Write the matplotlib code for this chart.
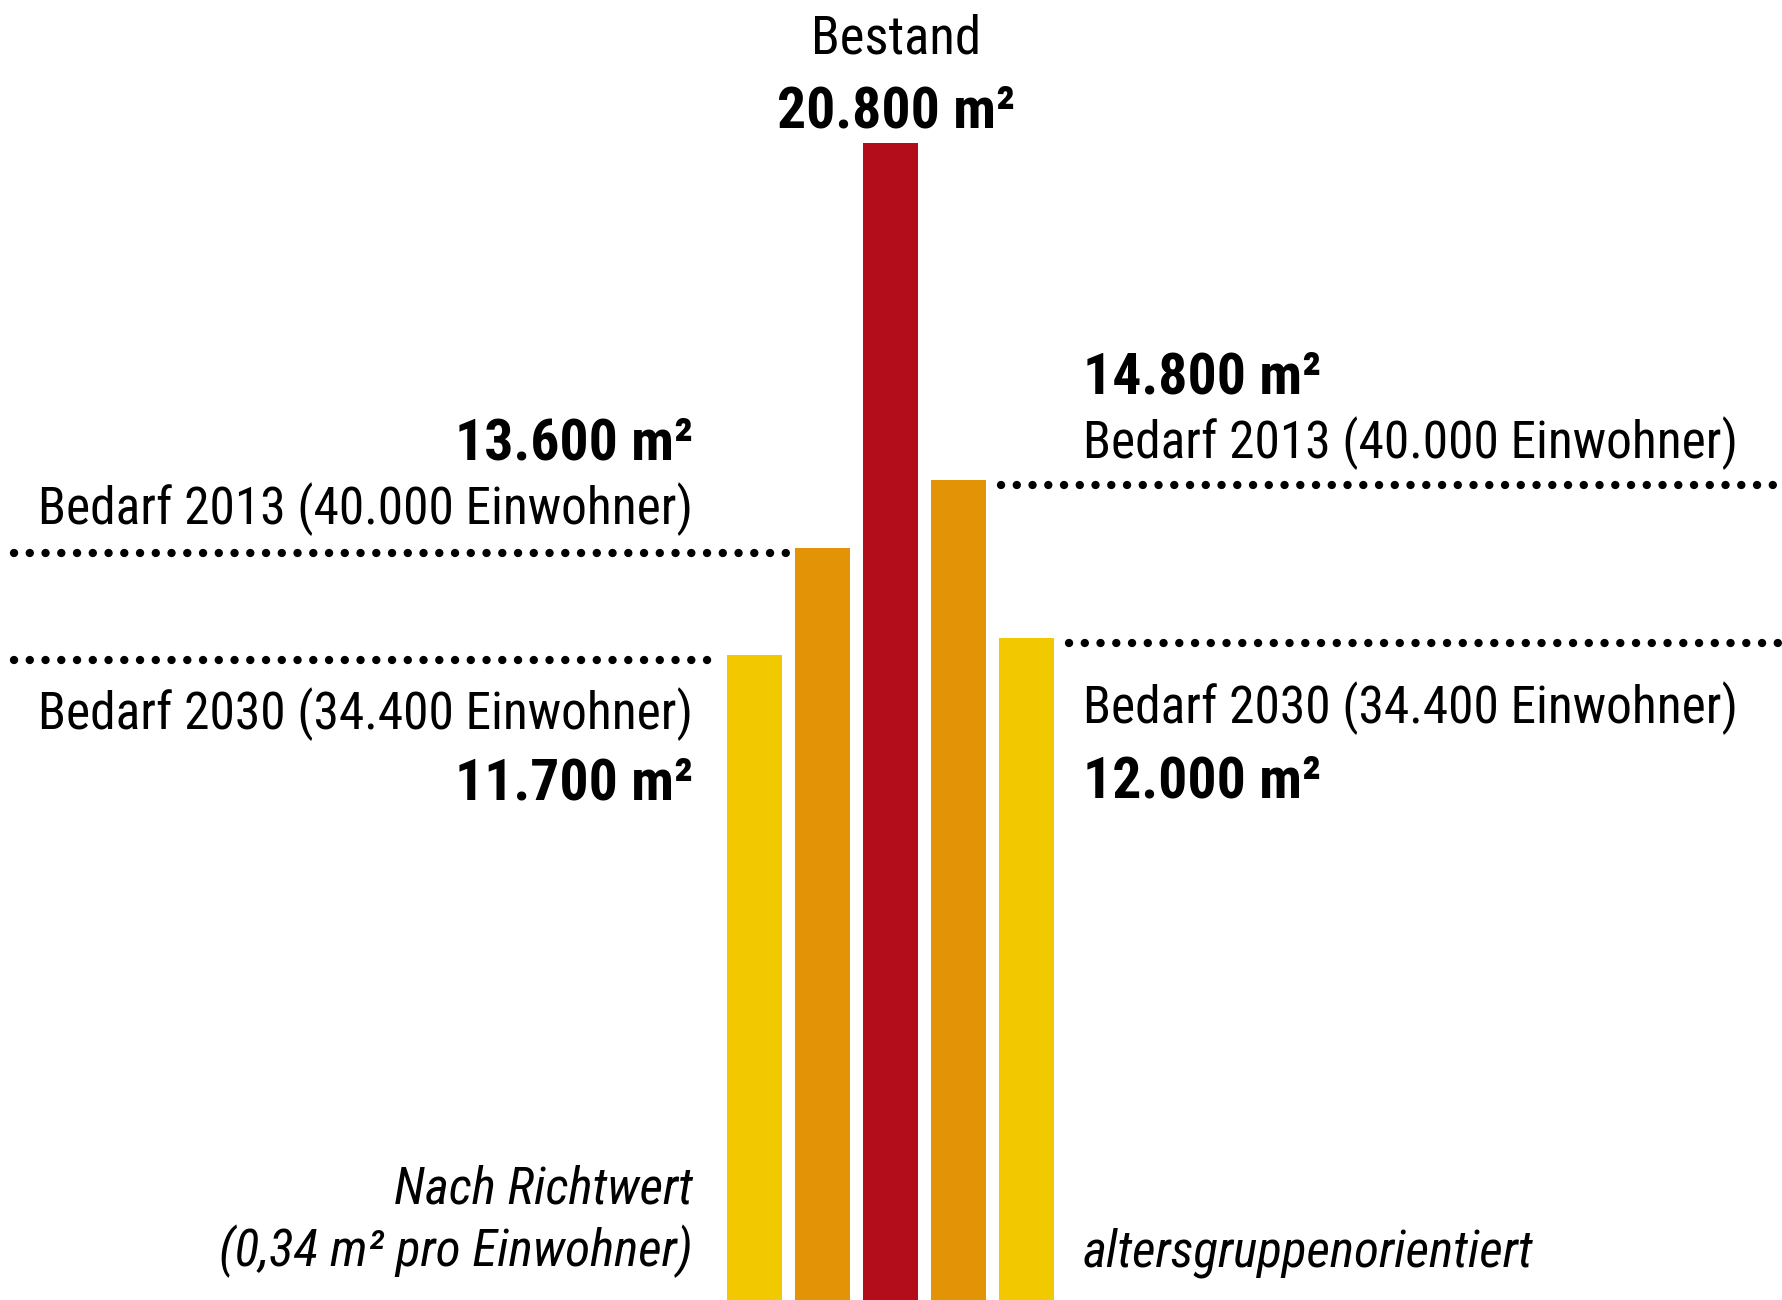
import matplotlib.pyplot as plt
import matplotlib.transforms as mtransforms

# Flächenbedarf vs. Bestand (m²)
values = [11700, 13600, 20800, 14800, 12000]
colors = ['#F2C800', '#E39306', '#B30D1C', '#E39306', '#F2C800']
value_labels = ['11.700 m²', '13.600 m²', '20.800 m²', '14.800 m²', '12.000 m²']
bedarf_2013 = 'Bedarf 2013 (40.000 Einwohner)'
bedarf_2030 = 'Bedarf 2030 (34.400 Einwohner)'

W, H = 1782, 1300
plt.rcParams['font.family'] = ['Roboto Condensed', 'DejaVu Sans']

fig = plt.figure(figsize=(W / 100, H / 100), dpi=100)
ax = fig.add_axes([0, 0, 1, 1])
ax.set_axis_off()

# bar centres sit 68 px apart, middle bar at x=890 px
ax.set_xlim(-890.5 / 68 + 2, (W - 890.5) / 68 + 2)
ax.set_ylim(13 / 0.05626, 1313 / 0.05626)

x = range(len(values))
ax.bar(x, values, width=0.81, color=colors, linewidth=0)

# dotted reference lines, a few px under the bar tops
shift = mtransforms.offset_copy(ax.transData, fig=fig, y=-5, units='dots')
dots = dict(color='black', linewidth=6, linestyle=(0, (0.01, 1.88)),
            dash_capstyle='round', transform=shift)
x0, x1 = ax.get_xlim()
ax.plot([x0 + 0.2, 1 - 0.52], [values[1]] * 2, **dots)
ax.plot([x0 + 0.2, 0 - 0.52], [values[0]] * 2, **dots)
ax.plot([3 + 0.62, x1], [values[3]] * 2, **dots)
ax.plot([4 + 0.62, x1], [values[4]] * 2, **dots)


def put(px, py, s, **kw):
    fig.text(px / W, 1 - py / H, s, va='baseline', **kw)


reg = 37
bold = dict(fontsize=41.5, fontweight='bold')

put(896, 53, 'Bestand', ha='center', fontsize=38)
put(896, 128, value_labels[2], ha='center', **bold)

# left side: Richtwert
put(693, 459, value_labels[1], ha='right', **bold)
put(693, 524, bedarf_2013, ha='right', fontsize=reg)
put(693, 729, bedarf_2030, ha='right', fontsize=reg)
put(693, 800, value_labels[0], ha='right', **bold)
put(693, 1203, 'Nach Richtwert', ha='right', fontsize=reg, style='italic')
put(693, 1266, '(0,34 m² pro Einwohner)', ha='right', fontsize=reg, style='italic')

# right side: altersgruppenorientiert
put(1083, 393, value_labels[3], ha='left', **bold)
put(1083, 458, bedarf_2013, ha='left', fontsize=reg)
put(1083, 723, bedarf_2030, ha='left', fontsize=reg)
put(1083, 798, value_labels[4], ha='left', **bold)
put(1083, 1266, 'altersgruppenorientiert', ha='left', fontsize=reg, style='italic')

fig.savefig('out.png', dpi=100, facecolor='white')
